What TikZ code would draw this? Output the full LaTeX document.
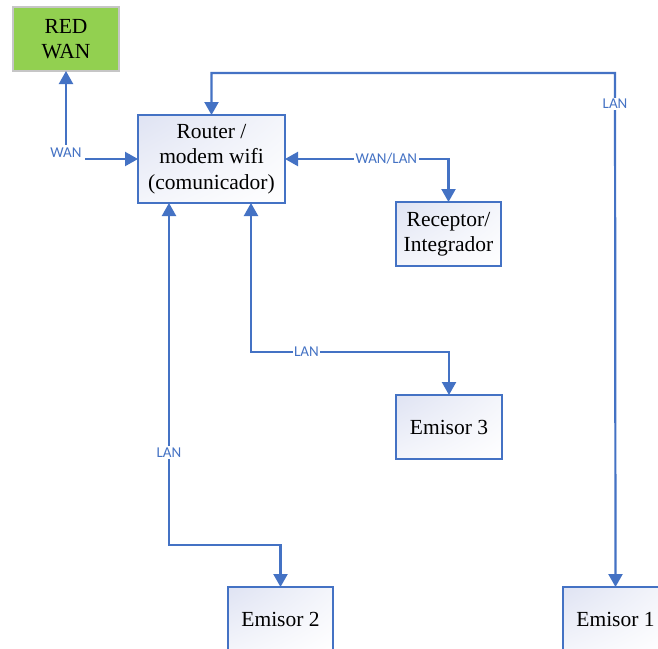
\documentclass[tikz,border=0pt]{standalone}
\usepackage{fontspec}
\setmainfont{Liberation Serif}
\newfontfamily\labelfont{Carlito}
\usetikzlibrary{arrows.meta,shadings}
\definecolor{linkblue}{HTML}{4472C4}
\definecolor{wangreen}{HTML}{92D050}
\definecolor{boxtint}{HTML}{DFE3F3}
\tikzset{
  unitbox/.style={draw=linkblue, line width=1.3pt, inner sep=0pt, outer sep=0pt,
    minimum width=105pt, minimum height=64pt, align=center,
    font=\fontsize{21.5}{25.5}\selectfont,
    upper left=boxtint, upper right=boxtint!35!white,
    lower left=boxtint!35!white, lower right=white},
  netbox/.style={draw=gray!45, line width=1.3pt, fill=wangreen, inner sep=0pt, outer sep=0pt,
    minimum width=106pt, minimum height=64pt, align=center,
    font=\fontsize{21.5}{25.5}\selectfont},
  conn/.style={draw=linkblue, line width=2.2pt,
    {Triangle[width=14pt,length=13pt]}-{Triangle[width=14pt,length=13pt]}},
  lbl/.style={fill=white, inner sep=1.5pt, text=linkblue,
    font=\labelfont\fontsize{15}{17}\selectfont}
}
\begin{document}
\begin{tikzpicture}[x=1pt,y=-1pt]
  \clip (0,0) rectangle (658,648);
  \fill[white] (0,0) rectangle (658,648);

  % boxes
  \node[netbox] (redwan) at (66,39) {RED\\WAN};
  \node[unitbox, minimum width=147pt, minimum height=88pt] (router) at (211.5,159)
    {Router /\\modem wifi\\(comunicador)};
  \node[unitbox] (receptor) at (448.5,234) {Receptor/\\Integrador};
  \node[unitbox, minimum width=106pt] (emisor3) at (449,427) {Emisor 3};
  \node[unitbox] (emisor2) at (280.5,619) {Emisor 2};
  \node[unitbox] (emisor1) at (615.5,619) {Emisor 1};

  % routing points
  \coordinate (toprun) at (615,73);
  \coordinate (bend3) at (251,352);
  \coordinate (bend2) at (169,545);

  % links
  \draw[conn] (redwan.south) |- node[lbl, pos=0.5, yshift=6pt, inner sep=3pt] {WAN} (router.west);
  \draw[conn] (router.north) |- (toprun) -- node[lbl, pos=0.06] {LAN} (emisor1.north);
  \draw[conn] (router.east) -| node[lbl, pos=0.31] {WAN/LAN} (receptor.north);
  \draw[conn] (router.south -| bend3) -- (bend3) -| node[lbl, pos=0.14] {LAN} (emisor3.north);
  \draw[conn] (router.south -| bend2) -- node[lbl, pos=0.73] {LAN} (bend2) -| (emisor2.north);
\end{tikzpicture}
\end{document}
